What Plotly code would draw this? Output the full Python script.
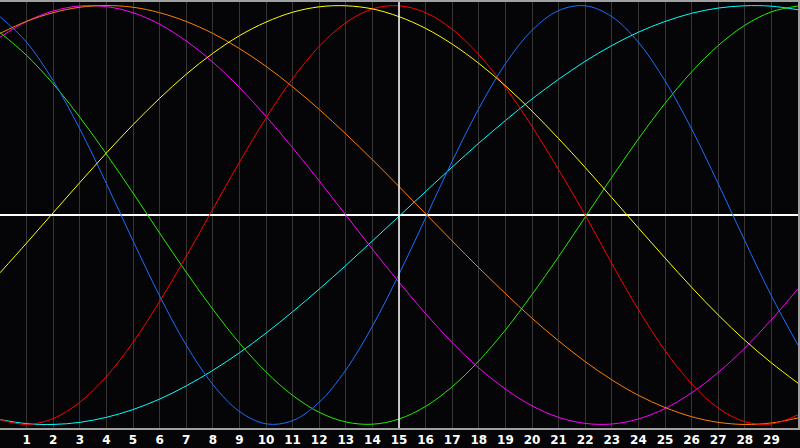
import plotly.graph_objects as go

x = list(range(0, 31))
tick_vals = list(range(1, 30))

yellow = [-0.276, -0.134, 0.011, 0.155, 0.296, 0.431, 0.557, 0.672, 0.772, 0.856, 0.921, 0.968, 0.994, 0.999, 0.984,
          0.947, 0.891, 0.816, 0.724, 0.617, 0.496, 0.365, 0.227, 0.083, -0.062, -0.205, -0.345, -0.477, -0.598, -0.706, -0.803]
red = [-0.977, -1.000, -0.972, -0.894, -0.771, -0.608, -0.413, -0.198, 0.028, 0.252, 0.463, 0.651, 0.805, 0.918, 0.984,
       0.999, 0.966, 0.887, 0.766, 0.609, 0.423, 0.216, 0.000, -0.232, -0.452, -0.647, -0.806, -0.922, -0.987, -0.998, -0.954]
orange = [0.867, 0.925, 0.966, 0.992, 1.000, 0.992, 0.966, 0.924, 0.867, 0.795, 0.710, 0.612, 0.504, 0.387, 0.264,
          0.136, 0.006, -0.124, -0.252, -0.375, -0.493, -0.601, -0.700, -0.787, -0.861, -0.919, -0.963, -0.990, -1.000, -0.993, -0.969]
magenta = [0.849, 0.924, 0.974, 0.998, 0.995, 0.966, 0.911, 0.831, 0.730, 0.609, 0.471, 0.321, 0.163, 0.000, -0.163,
           -0.321, -0.471, -0.609, -0.730, -0.831, -0.911, -0.966, -0.995, -0.998, -0.974, -0.924, -0.849, -0.752, -0.635, -0.500, -0.352]
green = [0.871, 0.762, 0.626, 0.467, 0.291, 0.105, -0.086, -0.273, -0.450, -0.611, -0.749, -0.861, -0.942, -0.988, -0.999,
         -0.974, -0.914, -0.820, -0.697, -0.549, -0.380, -0.199, -0.010, 0.180, 0.363, 0.533, 0.683, 0.809, 0.906, 0.970, 0.998]
blue = [0.947, 0.825, 0.641, 0.411, 0.150, -0.123, -0.386, -0.621, -0.809, -0.938, -0.997, -0.982, -0.894, -0.740, -0.531,
        -0.283, -0.014, 0.257, 0.508, 0.722, 0.882, 0.976, 0.999, 0.947, 0.825, 0.641, 0.411, 0.150, -0.123, -0.386, -0.621]
cyan = [-0.977, -0.996, -1.000, -0.990, -0.966, -0.929, -0.879, -0.816, -0.742, -0.658, -0.564, -0.462, -0.354, -0.241, -0.124,
        -0.006, 0.112, 0.229, 0.343, 0.451, 0.554, 0.648, 0.734, 0.809, 0.873, 0.924, 0.963, 0.988, 0.999, 0.997, 0.980]

series = [
    (cyan, '#00ffff'),
    (green, '#22ee00'),
    (blue, '#1a6eff'),
    (magenta, '#ff00ff'),
    (orange, '#ff7f00'),
    (red, '#ff0000'),
    (yellow, '#ffff00'),
]

fig = go.Figure()
for vals, col in series:
    fig.add_trace(go.Scatter(x=x, y=vals, mode='lines',
                             line=dict(color=col, width=1, shape='spline'),
                             hoverinfo='skip', showlegend=False))

# white cross hair at the centre
fig.add_vline(x=15, line=dict(color='white', width=1.5), layer='above')

fig.update_layout(
    width=800, height=448,
    margin=dict(l=0, r=0, t=0, b=20),
    paper_bgcolor='#050507',
    plot_bgcolor='#050507',
    showlegend=False,
)
fig.update_xaxes(range=[0, 30], tickvals=tick_vals, ticktext=[str(t) for t in tick_vals],
                 showgrid=True, gridcolor='#353535', gridwidth=1,
                 showline=True, linecolor='#a0a0a0', linewidth=2, mirror=True,
                 zeroline=False, ticks='',
                 tickfont=dict(family='DejaVu Sans', size=12, color='white', weight='bold'))
fig.update_yaxes(range=[-1.017, 1.017], showgrid=False, showticklabels=False,
                 zeroline=True, zerolinecolor='white', zerolinewidth=1.5,
                 showline=True, linecolor='#a0a0a0', linewidth=2, mirror=True)

# the page has a default 8px body margin; drop it so the chart fills the window
fig.write_html("out.html", config={'displayModeBar': False},
               post_script="document.body.style.margin='0';")
